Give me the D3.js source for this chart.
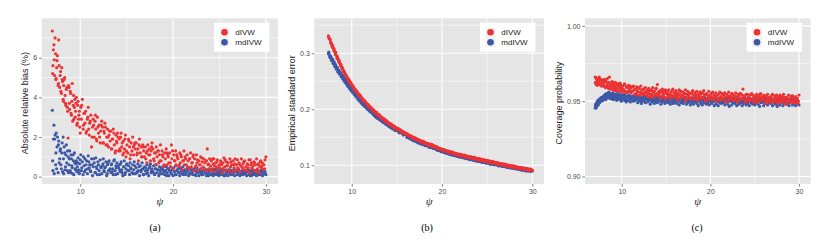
<!DOCTYPE html>
<html>
<head>
<meta charset="utf-8">
<script src="https://cdnjs.cloudflare.com/ajax/libs/d3/7.8.5/d3.min.js"></script>
<style>
  body { margin: 0; background: #fff; }
  svg text { font-family: 'Liberation Sans', Arial, sans-serif; }
</style>
</head>
<body>
<div id="chart"></div>
<script>
'use strict';

// psi of each simulated scenario (shared by the three panels);
// the last 132 entries are a second batch of scenarios
var psi = [
  7.00,7.06,7.17,7.24,7.35,7.41,7.50,7.62,7.68,7.79,
  7.88,7.97,8.05,8.16,8.22,8.33,8.41,8.50,8.61,8.69,
  8.80,8.86,8.97,9.05,9.14,9.25,9.31,9.42,9.50,9.58,
  9.69,9.77,9.86,9.95,10.06,10.12,10.23,10.31,10.40,10.51,
  10.58,10.69,10.77,10.86,10.97,11.03,11.14,11.22,11.33,11.40,
  11.51,11.59,11.68,11.79,11.85,11.96,12.04,12.15,12.21,12.32,
  12.40,12.49,12.60,12.66,12.77,12.85,12.94,13.05,13.11,13.22,
  13.31,13.39,13.50,13.56,13.67,13.76,13.84,13.95,14.02,14.13,
  14.21,14.30,14.41,14.47,14.58,14.66,14.75,14.86,14.92,15.03,
  15.12,15.20,15.31,15.37,15.48,15.57,15.65,15.76,15.82,15.93,
  16.02,16.10,16.21,16.27,16.38,16.47,16.55,16.66,16.73,16.83,
  16.92,17.01,17.11,17.18,17.28,17.37,17.45,17.56,17.63,17.73,
  17.83,17.91,18.01,18.08,18.19,18.27,18.36,18.46,18.53,18.64,
  18.72,18.81,18.91,18.98,19.09,19.17,19.26,19.36,19.43,19.54,
  19.62,19.71,19.82,19.88,19.99,20.07,20.16,20.27,20.33,20.44,
  20.52,20.61,20.72,20.78,20.89,20.97,21.06,21.17,21.23,21.34,
  21.42,21.51,21.62,21.68,21.79,21.88,21.96,22.07,22.13,22.24,
  22.33,22.41,22.52,22.58,22.69,22.78,22.86,22.97,23.03,23.14,
  23.23,23.31,23.42,23.49,23.59,23.68,23.76,23.87,23.93,24.04,
  24.13,24.21,24.32,24.39,24.49,24.58,24.66,24.77,24.84,24.94,
  25.03,25.12,25.22,25.29,25.39,25.48,25.56,25.67,25.74,25.84,
  25.93,26.02,26.12,26.19,26.29,26.38,26.46,26.57,26.64,26.74,
  26.83,26.92,27.02,27.09,27.19,27.28,27.36,27.47,27.54,27.64,
  27.73,27.82,27.92,27.99,28.09,28.18,28.26,28.37,28.44,28.54,
  28.63,28.72,28.82,28.89,28.99,29.08,29.16,29.27,29.34,29.44,
  29.53,29.62,29.72,29.80,29.91,30.00,
  7.03,7.11,7.20,7.29,7.38,7.46,7.55,7.65,7.73,7.83,
  7.92,8.01,8.10,8.19,8.27,8.37,8.45,8.55,8.64,8.74,
  8.83,8.92,9.01,9.10,9.19,9.28,9.37,9.46,9.54,9.64,
  9.73,9.82,9.91,10.00,10.16,10.35,10.46,10.63,10.81,10.92,
  11.08,11.27,11.45,11.63,11.74,11.90,12.09,12.26,12.45,12.55,
  12.71,12.90,13.00,13.16,13.35,13.45,13.62,13.80,13.90,14.07,
  14.26,14.36,14.52,14.70,14.81,14.97,15.25,15.43,15.71,15.88,
  16.15,16.33,16.60,16.78,17.06,17.23,17.50,17.68,17.96,18.14,
  18.41,18.59,18.86,19.04,19.31,19.49,19.76,19.94,20.21,20.39,
  20.66,20.84,21.11,21.29,21.56,21.74,22.01,22.19,22.46,22.64,
  22.91,23.09,23.36,23.54,23.81,23.99,24.26,24.44,24.71,24.89,
  25.16,25.34,25.61,25.79,26.06,26.24,26.51,26.69,26.96,27.14,
  27.41,27.59,27.86,28.04,28.31,28.49,28.76,28.94,29.21,29.39,
  29.58,29.86
];

// (a) absolute relative bias (%)
var biasDIVW = [
  7.35,5.6,6.65,5.1,6.2,4.95,5.85,4.6,6.9,4.5,
  5.3,4.2,4.9,3.9,4.6,5.0,3.7,4.4,3.5,1.95,
  4.5,3.4,4.2,3.1,4.7,3.6,2.9,3.9,3.3,4.0,
  2.7,3.8,3.1,2.5,3.5,2.9,3.9,2.4,3.2,2.7,
  3.3,2.3,2.9,3.5,2.1,2.7,3.1,1.5,2.5,2.9,
  2.0,2.8,2.4,1.8,3.0,2.2,2.6,1.7,2.3,2.8,
  2.5,1.7,2.2,2.7,1.6,2.0,2.4,1.5,2.1,1.8,
  2.3,1.4,1.9,2.4,1.6,1.2,2.1,1.7,2.2,1.3,
  1.9,1.3,2.2,1.5,1.1,1.8,1.4,2.1,1.0,1.6,
  1.2,1.9,1.5,0.9,1.7,1.3,2.0,1.1,1.6,1.4,
  1.7,1.1,1.4,0.8,1.9,1.2,1.5,1.0,1.6,1.3,
  1.0,1.5,1.2,0.7,1.6,1.1,1.4,0.8,1.3,1.7,
  1.4,0.9,1.2,0.6,1.5,1.0,1.3,0.7,1.1,1.6,
  0.8,1.3,1.0,0.5,1.2,0.9,1.4,0.6,1.1,0.7,
  1.2,0.7,1.6,0.9,0.4,1.1,0.8,1.3,0.6,1.0,
  0.9,0.5,1.2,0.7,1.0,0.35,0.8,1.3,0.6,0.9,
  0.6,1.1,0.8,0.4,0.9,1.2,0.5,0.7,1.0,0.3,
  0.9,0.5,1.1,0.7,0.3,0.8,0.6,1.0,0.4,0.75,
  0.5,0.9,0.7,0.3,0.8,1.4,0.6,0.4,0.9,0.55,
  0.8,0.4,0.65,0.9,0.25,0.7,0.5,0.85,0.35,0.6,
  0.45,0.8,0.6,0.2,0.7,0.95,0.5,0.3,0.75,0.55,
  0.7,0.35,0.9,0.5,0.6,0.2,0.8,0.45,0.65,0.3,
  0.6,0.85,0.4,0.7,0.25,0.55,0.9,0.45,0.65,0.35,
  0.8,0.5,0.3,0.65,0.45,0.85,0.2,0.6,0.7,0.4,
  0.55,0.75,0.3,0.6,0.9,0.4,0.65,0.2,0.5,0.8,
  0.45,0.7,0.35,0.6,0.85,1.0,
  5.2,6.4,5.9,7.0,4.9,5.5,6.1,4.7,5.6,5.1,
  4.3,5.5,4.8,3.8,4.9,4.1,3.6,4.5,3.3,4.6,
  3.7,4.3,3.2,3.8,2.8,4.1,3.5,3.0,3.7,2.6,
  3.6,2.9,3.3,2.2,3.6,2.6,3.2,2.2,3.0,2.4,
  2.8,2.0,2.6,3.1,1.9,2.5,2.0,2.6,1.7,2.3,
  2.5,1.6,2.0,2.3,1.4,1.9,2.2,1.3,1.8,2.0,
  1.4,2.0,1.7,1.2,1.9,1.3,1.8,1.1,1.5,1.7,
  1.2,1.6,1.0,1.5,0.9,1.3,1.1,1.5,0.8,1.2,
  1.3,0.8,1.1,0.6,1.2,1.0,0.5,1.3,0.8,1.1,
  0.6,1.1,0.8,1.0,0.5,0.9,0.7,1.1,0.55,0.85,
  0.6,0.95,0.4,0.8,0.65,0.3,0.9,0.55,0.75,0.45,
  0.7,0.4,0.85,0.55,0.3,0.75,0.6,0.9,0.45,0.65,
  0.5,0.75,0.35,0.6,0.85,0.45,0.7,0.25,0.6,0.75,
  0.55,0.4
];
var biasMDIVW = [
  3.35,0.3,2.6,1.9,0.6,2.2,1.5,0.2,1.8,0.9,
  1.4,0.4,1.7,2.0,0.15,1.2,0.5,1.6,0.3,1.0,
  0.6,1.3,0.2,0.9,0.45,1.1,0.1,0.7,0.35,0.8,
  0.5,0.95,0.2,0.65,1.1,0.3,0.75,0.1,0.55,0.9,
  0.35,0.8,0.15,1.05,0.45,0.6,0.25,0.9,0.05,0.5,
  0.7,0.2,0.95,0.4,0.1,0.6,0.3,0.85,0.5,0.15,
  0.55,0.9,0.25,0.45,0.75,0.05,0.6,0.3,0.8,0.4,
  0.2,0.65,0.4,0.1,0.85,0.3,0.55,0.7,0.15,0.45,
  0.6,0.25,0.75,0.35,0.05,0.5,0.8,0.2,0.4,0.65,
  0.3,0.55,0.1,0.7,0.4,0.2,0.6,0.35,0.75,0.15,
  0.45,0.2,0.65,0.3,0.05,0.55,0.25,0.7,0.4,0.1,
  0.5,0.3,0.15,0.6,0.35,0.05,0.45,0.65,0.2,0.4,
  0.25,0.55,0.1,0.4,0.6,0.2,0.35,0.05,0.5,0.3,
  0.45,0.15,0.35,0.55,0.1,0.3,0.5,0.2,0.4,0.05,
  0.3,0.5,0.15,0.35,0.05,0.45,0.25,0.55,0.1,0.3,
  0.4,0.2,0.05,0.45,0.3,0.15,0.5,0.25,0.35,0.1,
  0.2,0.4,0.3,0.05,0.45,0.15,0.35,0.25,0.1,0.4,
  0.35,0.1,0.25,0.45,0.2,0.05,0.3,0.4,0.15,0.25,
  0.1,0.3,0.4,0.2,0.05,0.35,0.15,0.25,0.4,0.1,
  0.3,0.15,0.05,0.35,0.25,0.4,0.1,0.2,0.3,0.05,
  0.2,0.35,0.1,0.25,0.4,0.05,0.3,0.15,0.35,0.2,
  0.05,0.25,0.35,0.15,0.3,0.1,0.2,0.38,0.05,0.25,
  0.3,0.1,0.2,0.35,0.05,0.25,0.15,0.3,0.1,0.2,
  0.15,0.3,0.05,0.25,0.35,0.1,0.2,0.3,0.05,0.15,
  0.25,0.1,0.3,0.2,0.05,0.35,0.15,0.25,0.1,0.3,
  0.2,0.05,0.3,0.15,0.25,0.1,
  0.8,1.9,0.15,2.1,1.2,0.4,2.0,1.6,0.7,1.3,
  0.6,1.2,0.25,0.9,1.5,0.35,1.1,0.7,1.3,0.2,
  0.9,0.3,1.1,0.55,0.15,0.8,1.2,0.4,0.65,0.25,
  0.7,0.35,0.15,0.85,0.45,1.0,0.25,0.6,0.4,0.75,
  0.3,0.6,0.9,0.2,0.5,0.75,0.1,0.45,0.65,0.3,
  0.5,0.15,0.7,0.35,0.6,0.25,0.8,0.1,0.45,0.55,
  0.35,0.65,0.2,0.5,0.1,0.6,0.3,0.45,0.15,0.55,
  0.25,0.5,0.35,0.1,0.45,0.2,0.55,0.3,0.15,0.4,
  0.35,0.15,0.45,0.25,0.05,0.4,0.2,0.35,0.1,0.3,
  0.2,0.4,0.1,0.3,0.45,0.15,0.25,0.35,0.05,0.3,
  0.25,0.1,0.35,0.2,0.05,0.3,0.4,0.15,0.25,0.1,
  0.3,0.15,0.05,0.25,0.35,0.1,0.2,0.3,0.15,0.25,
  0.1,0.25,0.2,0.35,0.05,0.3,0.15,0.25,0.1,0.2,
  0.3,0.15
];

// (b) empirical standard error (no estimate below psi 7.4)
var seDIVW = [
  null,null,null,null,null,0.331,0.326,0.324,0.319,0.315,
  0.314,0.309,0.308,0.302,0.302,0.295,0.294,0.289,0.287,0.282,
  0.280,0.276,0.274,0.269,0.268,0.262,0.262,0.257,0.256,0.251,
  0.253,0.249,0.248,0.244,0.243,0.240,0.239,0.236,0.235,0.231,
  0.232,0.228,0.227,0.224,0.224,0.221,0.220,0.217,0.217,0.214,
  0.214,0.210,0.210,0.207,0.208,0.204,0.205,0.201,0.202,0.198,
  0.199,0.196,0.196,0.193,0.194,0.190,0.191,0.188,0.189,0.185,
  0.186,0.183,0.184,0.181,0.182,0.178,0.180,0.176,0.177,0.174,
  0.175,0.172,0.173,0.170,0.171,0.168,0.169,0.166,0.167,0.164,
  0.166,0.163,0.164,0.161,0.162,0.159,0.160,0.157,0.159,0.156,
  0.157,0.155,0.155,0.153,0.154,0.151,0.152,0.150,0.151,0.148,
  0.150,0.147,0.148,0.146,0.147,0.144,0.145,0.143,0.144,0.142,
  0.143,0.140,0.142,0.139,0.140,0.138,0.139,0.137,0.138,0.135,
  0.138,0.135,0.137,0.134,0.135,0.133,0.134,0.131,0.133,0.130,
  0.131,0.129,0.130,0.128,0.129,0.127,0.128,0.126,0.127,0.125,
  0.126,0.124,0.125,0.123,0.124,0.122,0.124,0.121,0.123,0.120,
  0.122,0.120,0.121,0.119,0.120,0.118,0.120,0.117,0.119,0.117,
  0.118,0.116,0.118,0.115,0.117,0.115,0.116,0.114,0.116,0.113,
  0.115,0.113,0.114,0.112,0.114,0.111,0.113,0.111,0.112,0.110,
  0.112,0.109,0.111,0.109,0.110,0.108,0.110,0.107,0.109,0.107,
  0.109,0.106,0.108,0.106,0.107,0.105,0.107,0.104,0.106,0.104,
  0.105,0.103,0.105,0.102,0.104,0.102,0.103,0.101,0.103,0.100,
  0.102,0.100,0.102,0.099,0.101,0.099,0.100,0.098,0.100,0.097,
  0.099,0.097,0.099,0.096,0.098,0.096,0.097,0.095,0.097,0.095,
  0.096,0.094,0.096,0.093,0.095,0.093,0.094,0.092,0.094,0.092,
  0.093,0.091,0.093,0.091,0.092,0.091,
  null,null,null,null,null,0.328,0.326,0.319,0.318,0.312,
  0.310,0.305,0.303,0.298,0.297,0.291,0.290,0.285,0.284,0.279,
  0.277,0.273,0.272,0.267,0.266,0.262,0.261,0.257,0.256,0.252,
  0.251,0.247,0.247,0.243,0.241,0.235,0.234,0.229,0.227,0.223,
  0.221,0.216,0.214,0.210,0.209,0.205,0.203,0.199,0.198,0.195,
  0.194,0.190,0.190,0.186,0.185,0.183,0.182,0.178,0.178,0.175,
  0.174,0.172,0.171,0.168,0.168,0.165,0.164,0.161,0.159,0.157,
  0.156,0.153,0.152,0.149,0.148,0.146,0.145,0.142,0.142,0.139,
  0.139,0.136,0.136,0.133,0.133,0.131,0.130,0.128,0.128,0.126,
  0.126,0.124,0.123,0.121,0.121,0.119,0.119,0.117,0.117,0.115,
  0.115,0.114,0.113,0.112,0.111,0.110,0.110,0.108,0.108,0.107,
  0.107,0.105,0.105,0.104,0.104,0.102,0.102,0.101,0.101,0.099,
  0.100,0.098,0.098,0.097,0.097,0.096,0.096,0.095,0.095,0.094,
  0.093,0.093
];
var seMDIVW = [
  null,null,null,null,null,0.299,0.298,0.292,0.294,0.287,
  0.289,0.282,0.284,0.276,0.279,0.272,0.274,0.267,0.269,0.263,
  0.264,0.259,0.260,0.254,0.256,0.249,0.252,0.245,0.247,0.241,
  0.243,0.237,0.239,0.233,0.235,0.230,0.232,0.226,0.228,0.222,
  0.225,0.218,0.221,0.215,0.217,0.212,0.214,0.208,0.211,0.206,
  0.209,0.203,0.206,0.200,0.203,0.197,0.200,0.195,0.198,0.192,
  0.193,0.189,0.190,0.186,0.188,0.184,0.186,0.182,0.184,0.180,
  0.182,0.178,0.180,0.176,0.178,0.174,0.176,0.172,0.174,0.170,
  0.172,0.168,0.170,0.167,0.169,0.165,0.167,0.163,0.166,0.162,
  0.164,0.160,0.162,0.159,0.161,0.157,0.160,0.156,0.158,0.155,
  0.155,0.150,0.153,0.149,0.151,0.147,0.150,0.146,0.148,0.144,
  0.147,0.143,0.146,0.142,0.144,0.140,0.143,0.139,0.142,0.138,
  0.140,0.137,0.139,0.136,0.138,0.135,0.137,0.134,0.136,0.133,
  0.136,0.132,0.134,0.131,0.133,0.130,0.132,0.128,0.131,0.127,
  0.129,0.126,0.128,0.125,0.127,0.124,0.126,0.123,0.125,0.122,
  0.124,0.121,0.123,0.120,0.122,0.119,0.121,0.118,0.121,0.118,
  0.120,0.117,0.119,0.116,0.118,0.115,0.117,0.115,0.117,0.114,
  0.116,0.113,0.115,0.113,0.115,0.112,0.114,0.111,0.113,0.111,
  0.113,0.110,0.112,0.109,0.111,0.108,0.111,0.108,0.110,0.107,
  0.110,0.107,0.109,0.106,0.108,0.105,0.107,0.105,0.107,0.104,
  0.107,0.104,0.106,0.103,0.105,0.102,0.105,0.102,0.104,0.101,
  0.104,0.101,0.103,0.100,0.102,0.099,0.102,0.099,0.101,0.098,
  0.101,0.098,0.100,0.097,0.099,0.096,0.099,0.096,0.098,0.095,
  0.098,0.095,0.097,0.094,0.097,0.094,0.096,0.093,0.096,0.093,
  0.095,0.092,0.094,0.091,0.094,0.091,0.093,0.090,0.093,0.090,
  0.092,0.090,0.092,0.089,0.091,0.090,
  null,null,null,null,null,0.302,0.294,0.295,0.288,0.290,
  0.282,0.285,0.277,0.280,0.272,0.275,0.267,0.270,0.263,0.266,
  0.258,0.261,0.254,0.257,0.250,0.253,0.246,0.249,0.242,0.245,
  0.238,0.241,0.234,0.237,0.229,0.229,0.223,0.224,0.216,0.218,
  0.211,0.212,0.205,0.206,0.200,0.202,0.195,0.197,0.190,0.193,
  0.191,0.184,0.187,0.181,0.182,0.177,0.179,0.173,0.176,0.170,
  0.168,0.170,0.165,0.167,0.162,0.164,0.158,0.160,0.154,0.156,
  0.153,0.149,0.150,0.145,0.146,0.142,0.143,0.138,0.139,0.135,
  0.136,0.132,0.133,0.130,0.130,0.127,0.128,0.124,0.125,0.122,
  0.123,0.120,0.121,0.118,0.119,0.116,0.117,0.114,0.115,0.112,
  0.113,0.110,0.111,0.109,0.110,0.107,0.108,0.105,0.106,0.104,
  0.105,0.102,0.103,0.101,0.102,0.099,0.101,0.098,0.099,0.097,
  0.098,0.096,0.097,0.095,0.096,0.093,0.095,0.092,0.093,0.091,
  0.092,0.090
];

// (c) coverage probability
var covDIVW = [
  0.9660,0.9615,0.9645,0.9625,0.9610,0.9650,0.9630,0.9605,0.9640,0.9620,
  0.9635,0.9600,0.9625,0.9590,0.9640,0.9605,0.9620,0.9585,0.9660,0.9600,
  0.9620,0.9585,0.9610,0.9575,0.9600,0.9625,0.9580,0.9605,0.9570,0.9615,
  0.9600,0.9570,0.9610,0.9585,0.9560,0.9600,0.9575,0.9615,0.9565,0.9595,
  0.9590,0.9560,0.9605,0.9570,0.9585,0.9555,0.9595,0.9565,0.9600,0.9575,
  0.9580,0.9550,0.9595,0.9565,0.9540,0.9585,0.9560,0.9600,0.9555,0.9575,
  0.9545,0.9580,0.9560,0.9590,0.9540,0.9570,0.9550,0.9585,0.9565,0.9535,
  0.9575,0.9545,0.9590,0.9555,0.9565,0.9535,0.9580,0.9550,0.9610,0.9560,
  0.9540,0.9570,0.9530,0.9560,0.9580,0.9545,0.9565,0.9525,0.9575,0.9550,
  0.9565,0.9535,0.9575,0.9545,0.9520,0.9560,0.9540,0.9580,0.9530,0.9555,
  0.9540,0.9570,0.9525,0.9555,0.9535,0.9575,0.9545,0.9520,0.9565,0.9540,
  0.9560,0.9530,0.9550,0.9575,0.9520,0.9545,0.9565,0.9535,0.9555,0.9515,
  0.9550,0.9525,0.9570,0.9540,0.9515,0.9555,0.9535,0.9565,0.9520,0.9545,
  0.9530,0.9560,0.9545,0.9515,0.9555,0.9525,0.9570,0.9540,0.9510,0.9550,
  0.9545,0.9520,0.9565,0.9535,0.9510,0.9550,0.9530,0.9560,0.9515,0.9540,
  0.9525,0.9555,0.9535,0.9505,0.9545,0.9520,0.9560,0.9530,0.9510,0.9550,
  0.9540,0.9515,0.9555,0.9525,0.9500,0.9545,0.9530,0.9560,0.9510,0.9535,
  0.9520,0.9550,0.9530,0.9505,0.9540,0.9515,0.9555,0.9525,0.9500,0.9545,
  0.9535,0.9510,0.9550,0.9520,0.9540,0.9580,0.9515,0.9530,0.9505,0.9545,
  0.9515,0.9545,0.9525,0.9500,0.9540,0.9510,0.9550,0.9520,0.9495,0.9535,
  0.9530,0.9505,0.9545,0.9515,0.9535,0.9495,0.9525,0.9550,0.9510,0.9530,
  0.9510,0.9540,0.9520,0.9495,0.9535,0.9505,0.9545,0.9515,0.9525,0.9490,
  0.9530,0.9505,0.9545,0.9515,0.9500,0.9535,0.9510,0.9540,0.9495,0.9525,
  0.9505,0.9535,0.9515,0.9490,0.9530,0.9500,0.9545,0.9510,0.9525,0.9495,
  0.9525,0.9500,0.9540,0.9510,0.9490,0.9530,0.9505,0.9535,0.9495,0.9520,
  0.9505,0.9530,0.9490,0.9520,0.9500,0.9540,
  0.9625,0.9655,0.9605,0.9640,0.9615,0.9660,0.9610,0.9645,0.9600,0.9630,
  0.9610,0.9645,0.9595,0.9630,0.9600,0.9650,0.9590,0.9625,0.9605,0.9580,
  0.9600,0.9630,0.9575,0.9615,0.9590,0.9570,0.9620,0.9585,0.9605,0.9565,
  0.9590,0.9620,0.9565,0.9600,0.9580,0.9610,0.9555,0.9590,0.9570,0.9600,
  0.9565,0.9595,0.9545,0.9580,0.9560,0.9590,0.9540,0.9575,0.9550,0.9585,
  0.9560,0.9530,0.9580,0.9545,0.9570,0.9525,0.9560,0.9540,0.9585,0.9535,
  0.9555,0.9520,0.9570,0.9535,0.9560,0.9515,0.9550,0.9530,0.9570,0.9525,
  0.9545,0.9510,0.9565,0.9530,0.9550,0.9505,0.9540,0.9520,0.9560,0.9515,
  0.9540,0.9505,0.9560,0.9525,0.9545,0.9500,0.9535,0.9515,0.9555,0.9510,
  0.9535,0.9500,0.9555,0.9520,0.9540,0.9495,0.9530,0.9510,0.9550,0.9505,
  0.9530,0.9495,0.9550,0.9515,0.9535,0.9490,0.9525,0.9505,0.9545,0.9500,
  0.9525,0.9490,0.9545,0.9510,0.9530,0.9485,0.9520,0.9500,0.9540,0.9495,
  0.9520,0.9485,0.9540,0.9505,0.9525,0.9480,0.9515,0.9495,0.9535,0.9490,
  0.9515,0.9485
];
var covMDIVW = [
  0.9455,0.9480,0.9465,0.9500,0.9475,0.9510,0.9490,0.9520,0.9500,0.9515,
  0.9505,0.9535,0.9515,0.9545,0.9510,0.9540,0.9525,0.9555,0.9520,0.9545,
  0.9515,0.9550,0.9530,0.9510,0.9545,0.9520,0.9540,0.9505,0.9535,0.9515,
  0.9540,0.9510,0.9530,0.9500,0.9535,0.9515,0.9545,0.9505,0.9525,0.9495,
  0.9530,0.9505,0.9540,0.9515,0.9495,0.9525,0.9510,0.9535,0.9500,0.9520,
  0.9505,0.9535,0.9515,0.9490,0.9530,0.9500,0.9525,0.9510,0.9485,0.9520,
  0.9530,0.9500,0.9520,0.9490,0.9535,0.9510,0.9495,0.9525,0.9505,0.9480,
  0.9515,0.9495,0.9530,0.9505,0.9485,0.9520,0.9500,0.9525,0.9490,0.9510,
  0.9500,0.9525,0.9480,0.9515,0.9495,0.9530,0.9505,0.9485,0.9520,0.9500,
  0.9515,0.9490,0.9525,0.9500,0.9480,0.9520,0.9495,0.9510,0.9485,0.9525,
  0.9495,0.9520,0.9485,0.9510,0.9500,0.9475,0.9515,0.9490,0.9525,0.9505,
  0.9485,0.9515,0.9500,0.9525,0.9480,0.9505,0.9490,0.9520,0.9495,0.9475,
  0.9510,0.9490,0.9520,0.9480,0.9505,0.9495,0.9525,0.9485,0.9510,0.9470,
  0.9500,0.9520,0.9485,0.9510,0.9475,0.9505,0.9490,0.9525,0.9495,0.9480,
  0.9515,0.9490,0.9505,0.9475,0.9520,0.9495,0.9485,0.9510,0.9500,0.9470,
  0.9505,0.9480,0.9515,0.9495,0.9470,0.9510,0.9490,0.9520,0.9485,0.9500,
  0.9490,0.9515,0.9475,0.9505,0.9495,0.9520,0.9480,0.9500,0.9465,0.9510,
  0.9500,0.9475,0.9510,0.9490,0.9520,0.9485,0.9505,0.9470,0.9495,0.9515,
  0.9480,0.9505,0.9490,0.9515,0.9470,0.9500,0.9485,0.9520,0.9495,0.9475,
  0.9510,0.9485,0.9500,0.9470,0.9515,0.9490,0.9505,0.9480,0.9520,0.9495,
  0.9475,0.9505,0.9490,0.9515,0.9480,0.9500,0.9465,0.9510,0.9490,0.9520,
  0.9495,0.9470,0.9510,0.9485,0.9500,0.9520,0.9475,0.9505,0.9490,0.9515,
  0.9485,0.9510,0.9470,0.9500,0.9490,0.9515,0.9480,0.9495,0.9465,0.9505,
  0.9500,0.9475,0.9515,0.9490,0.9505,0.9470,0.9510,0.9485,0.9500,0.9520,
  0.9480,0.9505,0.9490,0.9470,0.9510,0.9495,0.9515,0.9475,0.9500,0.9485,
  0.9495,0.9470,0.9510,0.9485,0.9500,0.9475,
  0.9470,0.9455,0.9490,0.9480,0.9505,0.9495,0.9515,0.9505,0.9525,0.9510,
  0.9530,0.9515,0.9540,0.9525,0.9550,0.9530,0.9545,0.9560,0.9535,0.9550,
  0.9540,0.9525,0.9555,0.9535,0.9520,0.9545,0.9530,0.9550,0.9520,0.9540,
  0.9525,0.9545,0.9515,0.9535,0.9520,0.9540,0.9510,0.9530,0.9515,0.9535,
  0.9520,0.9505,0.9530,0.9515,0.9535,0.9510,0.9525,0.9500,0.9520,0.9530,
  0.9515,0.9525,0.9505,0.9520,0.9530,0.9510,0.9525,0.9500,0.9515,0.9525,
  0.9510,0.9520,0.9500,0.9515,0.9525,0.9505,0.9515,0.9520,0.9500,0.9510,
  0.9515,0.9505,0.9520,0.9500,0.9510,0.9525,0.9505,0.9515,0.9500,0.9520,
  0.9505,0.9515,0.9500,0.9520,0.9510,0.9495,0.9515,0.9505,0.9520,0.9500,
  0.9510,0.9500,0.9520,0.9505,0.9495,0.9515,0.9505,0.9520,0.9500,0.9510,
  0.9500,0.9515,0.9505,0.9495,0.9520,0.9510,0.9500,0.9515,0.9505,0.9495,
  0.9510,0.9500,0.9515,0.9505,0.9495,0.9520,0.9500,0.9510,0.9505,0.9515,
  0.9505,0.9495,0.9515,0.9500,0.9510,0.9520,0.9495,0.9505,0.9515,0.9500,
  0.9510,0.9500
];

var seriesNames = ['dIVW', 'mdIVW'];
var xTicks = [10, 20, 30];
var xMinorTicks = [15, 25];
var biasTicks = [0, 2, 4, 6];
var biasMinorTicks = [1, 3, 5, 7];
var seTicks = [0.1, 0.2, 0.3];
var seMinorTicks = [0.15, 0.25, 0.35];
var covTicks = [0.90, 0.95, 1.00];
var covMinorTicks = [0.925, 0.975];
var yTitles = ['Absolute relative bias (%)', 'Empirical standard error', 'Coverage probability'];
var captions = ['(a)', '(b)', '(c)'];

var colours = { dIVW: '#EC3233', mdIVW: '#3C58A6' };
var panelTop = 18.3, panelBottom = 184;
var xDomain = [5.85, 31.3];

var svg = d3.select('#chart')
  .append('svg')
  .attr('width', 831)
  .attr('height', 249);

var panels = [
  { left: 41.7, right: 278, yDomain: [-0.37, 7.99], ticks: biasTicks, minor: biasMinorTicks,
    fmt: d3.format('d'), ys: { dIVW: biasDIVW, mdIVW: biasMDIVW }, titleX: 28, captionX: 155 },
  { left: 314.3, right: 544, yDomain: [0.0666, 0.3625], ticks: seTicks, minor: seMinorTicks,
    fmt: d3.format('.1f'), ys: { dIVW: seDIVW, mdIVW: seMDIVW }, titleX: 294.5, captionX: 427 },
  { left: 585, right: 810.5, yDomain: [0.895, 1.005], ticks: covTicks, minor: covMinorTicks,
    fmt: d3.format('.2f'), ys: { dIVW: covDIVW, mdIVW: covMDIVW }, titleX: 562, captionX: 697 }
];

var drawPanel = function (p, i) {
  var x = d3.scaleLinear().domain(xDomain).range([p.left, p.right]);
  var y = d3.scaleLinear().domain(p.yDomain).range([panelBottom, panelTop]);
  var g = svg.append('g');

  g.append('rect')
    .attr('x', p.left)
    .attr('y', panelTop)
    .attr('width', p.right - p.left)
    .attr('height', panelBottom - panelTop)
    .style('fill', '#E5E5E5');

  // grid: minor lines first, then major
  [[xMinorTicks, p.minor, 0.5], [xTicks, p.ticks, 1.1]].forEach(function (set) {
    g.selectAll(null).data(set[0]).enter().append('line')
      .attr('x1', function (d) { return x(d); })
      .attr('x2', function (d) { return x(d); })
      .attr('y1', panelTop).attr('y2', panelBottom)
      .style('stroke', '#fff').style('stroke-width', set[2]);
    g.selectAll(null).data(set[1].filter(function (d) { return y(d) > panelTop; })).enter().append('line')
      .attr('x1', p.left).attr('x2', p.right)
      .attr('y1', function (d) { return y(d); })
      .attr('y2', function (d) { return y(d); })
      .style('stroke', '#fff').style('stroke-width', set[2]);
  });

  // blue first so the red cloud sits on top
  ['mdIVW', 'dIVW'].forEach(function (name) {
    var pts = psi.map(function (v, k) { return [v, p.ys[name][k]]; })
      .filter(function (d) { return d[1] != null; });
    g.append('g').selectAll('circle').data(pts).enter().append('circle')
      .attr('cx', function (d) { return x(d[0]); })
      .attr('cy', function (d) { return y(d[1]); })
      .attr('r', 1.6)
      .style('fill', colours[name]);
  });

  // axes
  var ax = g.append('g')
    .attr('transform', 'translate(' + p.left + ',0)')
    .call(d3.axisLeft(y).tickValues(p.ticks).tickFormat(p.fmt).tickSize(2.7).tickPadding(1.8));
  var bx = g.append('g')
    .attr('transform', 'translate(0,' + panelBottom + ')')
    .call(d3.axisBottom(x).tickValues(xTicks).tickSize(2.7).tickPadding(2.2));
  [ax, bx].forEach(function (a) {
    a.select('.domain').remove();
    a.selectAll('line').style('stroke', '#333').style('stroke-width', 0.6);
    a.selectAll('text').style('fill', '#4D4D4D').style('font-size', '7px')
      .style('font-family', "'Liberation Sans', Arial, sans-serif");
  });

  // titles
  g.append('text')
    .attr('transform', 'translate(' + p.titleX + ',' + ((panelTop + panelBottom) / 2 + 2) + ') rotate(-90)')
    .attr('text-anchor', 'middle')
    .style('font-size', '9px')
    .style('fill', '#1a1a1a')
    .text(yTitles[i]);

  g.append('text')
    .attr('x', (p.left + p.right) / 2)
    .attr('y', 205)
    .attr('text-anchor', 'middle')
    .style('font-family', "'Liberation Serif', 'DejaVu Serif', serif")
    .style('font-style', 'italic')
    .style('font-size', '11px')
    .style('fill', '#1a1a1a')
    .text('\u03C8');

  g.append('text')
    .attr('x', p.captionX)
    .attr('y', 231)
    .attr('text-anchor', 'middle')
    .style('font-family', "'Liberation Serif', 'DejaVu Serif', serif")
    .style('font-size', '10px')
    .style('fill', '#000')
    .text(captions[i]);

  // legend
  var lx = p.right - 64;
  var legend = g.append('g').attr('transform', 'translate(' + lx + ',22.7)');
  legend.append('rect')
    .attr('width', 55.5).attr('height', 29)
    .style('fill', '#fff');
  seriesNames.forEach(function (name, k) {
    legend.append('rect')
      .attr('x', 5.5).attr('y', 4.6 + k * 10)
      .attr('width', 10).attr('height', 10)
      .style('fill', '#F2F2F2');
    legend.append('circle')
      .attr('cx', 10.5).attr('cy', 9.6 + k * 10)
      .attr('r', 3.3)
      .style('fill', colours[name]);
    legend.append('text')
      .attr('x', 21.3).attr('y', 12.5 + k * 10)
      .style('font-size', '8px')
      .style('fill', '#1a1a1a')
      .text(name);
  });
};

panels.forEach(drawPanel);
</script>
</body>
</html>
